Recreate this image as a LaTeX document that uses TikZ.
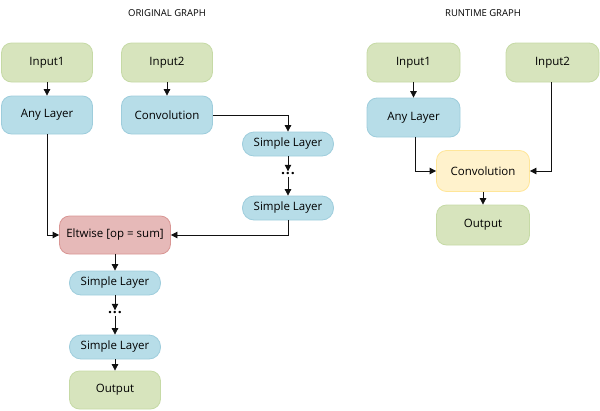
\documentclass[tikz,border=0pt]{standalone}
\usepackage{fontspec}
\setmainfont{Open Sans}
\usetikzlibrary{arrows.meta,positioning}
\definecolor{gfill}{HTML}{D7E4BD}
\definecolor{gline}{HTML}{C6DAA6}
\definecolor{bfill}{HTML}{B7DDE8}
\definecolor{bline}{HTML}{9ECDDC}
\definecolor{rfill}{HTML}{E6B9B8}
\definecolor{rline}{HTML}{D99694}
\definecolor{yfill}{HTML}{FFF2CC}
\definecolor{yline}{HTML}{FFE699}
\definecolor{edge}{HTML}{111111}
\tikzset{
  box/.style={draw, line width=0.8pt, rounded corners=10pt, inner sep=0pt, align=center, font=\fontsize{11.5}{13}\selectfont, text=black},
  greenbox/.style={box, fill=gfill, draw=gline},
  bluebox/.style={box, fill=bfill, draw=bline},
  redbox/.style={box, fill=rfill, draw=rline},
  yellowbox/.style={box, fill=yfill, draw=yline},
  pill/.style={bluebox, rounded corners=11.5pt, minimum width=91pt, minimum height=24pt},
  dotsnode/.style={inner sep=0pt, minimum width=14pt, minimum height=5pt, font=\fontsize{14}{14}\selectfont\bfseries},
  title/.style={font=\fontsize{9.5}{11}\selectfont, text=black},
  conn/.style={draw=edge, line width=0.8pt, -{Triangle[length=6.5pt,width=6.5pt]}}
}
\begin{document}
\begin{tikzpicture}[x=1pt,y=-1pt]
\useasboundingbox (0,0) rectangle (600,410);
% titles
\node[title] (t1) at (167,13) {ORIGINAL GRAPH};
\node[title] (t2) at (483,13) {RUNTIME GRAPH};
% original graph
\node[greenbox, minimum width=91pt, minimum height=39pt] (in1) at (47,62.5) {Input1};
\node[greenbox, minimum width=91pt, minimum height=39pt] (in2) at (167,62.5) {Input2};
\node[bluebox, minimum width=91pt, minimum height=38pt] (any) at (47,115) {Any Layer};
\node[bluebox, minimum width=91pt, minimum height=38pt] (conv) at (167,115) {Convolution};
\node[pill] (s1) at (288,144) {Simple Layer};
\node[dotsnode] (d1) at (288,174) {.\kern1pt.\kern1pt.};
\node[pill] (s2) at (288,208) {Simple Layer};
\node[redbox, minimum width=111pt, minimum height=38pt] (elt) at (115,235) {Eltwise [op = sum]};
\node[pill] (s3) at (115,283) {Simple Layer};
\node[dotsnode] (d2) at (115,313) {.\kern1pt.\kern1pt.};
\node[pill] (s4) at (115,347) {Simple Layer};
\node[greenbox, minimum width=91pt, minimum height=38pt] (out) at (115,390) {Output};
\draw[conn] (in1) -- (any);
\draw[conn] (in2) -- (conv);
\draw[conn] (conv.east) -| (s1.north);
\draw[conn] (s1.south) -- (d1.north);
\draw[conn] (d1.south) -- (s2.north);
\draw[conn] (s2.south) |- (elt.east);
\draw[conn] (any.south) |- (elt.west);
\draw[conn] (elt.south) -- (s3.north);
\draw[conn] (s3.south) -- (d2.north);
\draw[conn] (d2.south) -- (s4.north);
\draw[conn] (s4.south) -- (out.north);
% runtime graph
\node[greenbox, minimum width=93pt, minimum height=39pt] (rin1) at (413.5,62.5) {Input1};
\node[greenbox, minimum width=93pt, minimum height=39pt] (rin2) at (552.5,62.5) {Input2};
\node[bluebox, minimum width=93pt, minimum height=39pt] (rany) at (413.5,117.5) {Any Layer};
\node[yellowbox, minimum width=93pt, minimum height=41pt] (rconv) at (483,171) {Convolution};
\node[greenbox, minimum width=93pt, minimum height=40pt] (rout) at (483,225) {Output};
\draw[conn] (rin1) -- (rany);
\draw[conn] ([xshift=2pt]rany.south) |- (rconv.west);
\draw[conn] ([xshift=-1pt]rin2.south) |- (rconv.east);
\draw[conn] (rconv) -- (rout);
\end{tikzpicture}
\end{document}
